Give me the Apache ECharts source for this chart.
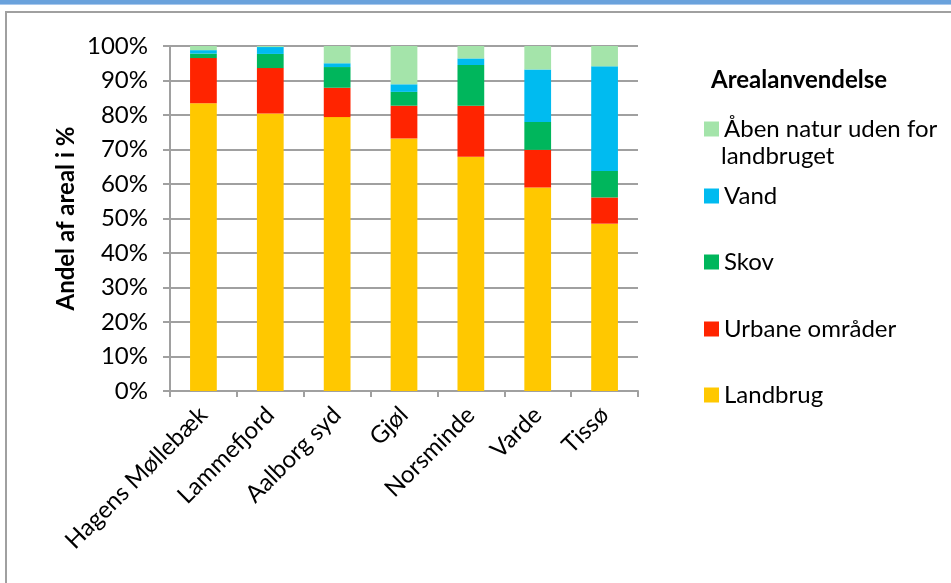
<!DOCTYPE html>
<html lang="da">
<head>
    <meta charset="UTF-8">
    <title>Arealanvendelse</title>
    <script src="https://cdn.jsdelivr.net/npm/echarts@6/dist/echarts.min.js"></script>
    <style>
        html, body { margin: 0; padding: 0; background: #fff; }
        #chart { width: 951px; height: 583px; }
    </style>
</head>
<body>
    <div id="chart"></div>
    <script>
        // data (percent of area)
        var categories = ['Hagens Møllebæk', 'Lammefjord', 'Aalborg syd', 'Gjøl', 'Norsminde', 'Varde', 'Tissø'];
        var landbrug = [83.4, 80.4, 79.4, 73.2, 67.9, 59.0, 48.5];
        var urbane   = [13.1, 13.2, 8.5, 9.5, 14.8, 10.9, 7.6];
        var skov     = [1.3, 4.1, 6.0, 4.0, 11.8, 8.1, 7.7];
        var vand     = [1.0, 2.0, 1.1, 2.2, 1.9, 15.2, 30.3];
        var aaben    = [1.2, 0.3, 5.0, 11.1, 3.6, 6.8, 5.9];

        var seriesNames = ['Landbrug', 'Urbane områder', 'Skov', 'Vand', 'Åben natur uden for landbruget'];
        var seriesData = [landbrug, urbane, skov, vand, aaben];
        var colors = ['#FFC800', '#FF2400', '#00B65C', '#00BBF0', '#A4E4AA'];

        var font = 'Lato, "Open Sans", sans-serif';
        var grey = '#a0a0a0';

        // legend rows, top to bottom (marker centres in px)
        var legendRows = [
            { name: 'Åben natur uden for landbruget', label: 'Åben natur uden for', y: 124 },
            { name: 'Vand', label: 'Vand', y: 191 },
            { name: 'Skov', label: 'Skov', y: 257 },
            { name: 'Urbane områder', label: 'Urbane områder', y: 324 },
            { name: 'Landbrug', label: 'Landbrug', y: 390 }
        ];

        var chart = echarts.init(document.getElementById('chart'));

        var option = {
            backgroundColor: '#fff',
            animation: false,
            textStyle: { fontFamily: font },
            title: {
                text: 'Arealanvendelse',
                left: 706,
                top: 63,
                textStyle: { fontFamily: font, fontSize: 24, fontWeight: 'bold', color: '#000' }
            },
            legend: legendRows.map(function (r) {
                return {
                    data: [r.name],
                    left: 699,
                    top: r.y - 14,
                    orient: 'vertical',
                    itemWidth: 15,
                    itemHeight: 15,
                    itemGap: 6,
                    selectedMode: false,
                    icon: 'rect',
                    formatter: function () { return r.label; },
                    textStyle: { fontFamily: font, fontSize: 24, color: '#000', lineHeight: 28 }
                };
            }),
            graphic: [
                { type: 'rect', shape: { x: 0, y: 0, width: 951, height: 4 }, style: { fill: '#6aa2dc' }, silent: true },
                { type: 'rect', shape: { x: 0, y: 4, width: 951, height: 1 }, style: { fill: '#a9c8ec' }, silent: true },
                { type: 'rect', shape: { x: 5, y: 11, width: 946, height: 2 }, style: { fill: grey }, silent: true },
                { type: 'rect', shape: { x: 5, y: 11, width: 2, height: 572 }, style: { fill: grey }, silent: true },
                {
                    type: 'text', left: 721, top: 144, silent: true,
                    style: { text: 'landbruget', fontFamily: font, fontSize: 24, fill: '#000' }
                }
            ],
            grid: {
                left: 170,
                right: 313,
                top: 46,
                bottom: 192
            },
            xAxis: {
                type: 'category',
                data: categories,
                axisLine: { lineStyle: { color: grey, width: 2 } },
                axisTick: { show: true, length: 6, lineStyle: { color: grey, width: 2 } },
                axisLabel: {
                    rotate: 45,
                    interval: 0,
                    margin: 20,
                    fontFamily: font,
                    fontSize: 24,
                    color: '#000'
                }
            },
            yAxis: {
                type: 'value',
                min: 0,
                max: 100,
                interval: 10,
                name: 'Andel af areal i %',
                nameLocation: 'middle',
                nameGap: 92,
                nameTextStyle: { fontFamily: font, fontSize: 24, fontWeight: 'bold', color: '#000' },
                axisLine: { show: true, lineStyle: { color: grey, width: 2 } },
                axisTick: { show: true, length: 7, lineStyle: { color: grey, width: 2 } },
                splitLine: { show: true, lineStyle: { color: grey, width: 2 } },
                axisLabel: {
                    formatter: '{value}%',
                    margin: 22,
                    fontFamily: font,
                    fontSize: 24,
                    color: '#000'
                }
            },
            series: seriesNames.map(function (name, i) {
                return {
                    name: name,
                    type: 'bar',
                    stack: 'total',
                    barWidth: '40%',
                    itemStyle: { color: colors[i] },
                    data: seriesData[i]
                };
            })
        };

        chart.setOption(option);
    </script>
</body>
</html>
